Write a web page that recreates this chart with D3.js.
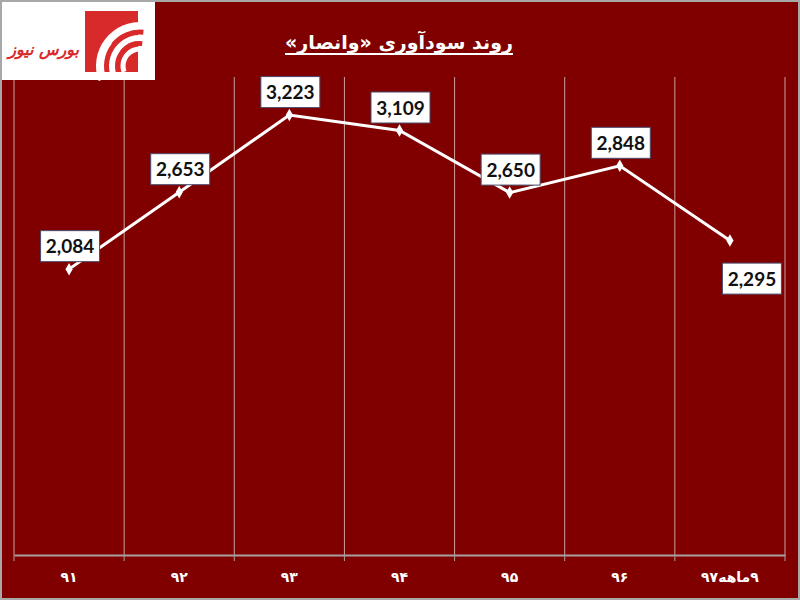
<!DOCTYPE html>
<html><head><meta charset="utf-8">
<script src="https://cdn.jsdelivr.net/npm/d3@7/dist/d3.min.js"></script>
<style>body{margin:0;background:#800000}svg{display:block}</style>
</head><body>
<script>
const categories = ["۹۱","۹۲","۹۳","۹۴","۹۵","۹۶","۹ماهه۹۷"];
const values = [2084, 2653, 3223, 3109, 2650, 2848, 2295];
const valueLabels = ["2,084","2,653","3,223","3,109","2,650","2,848","2,295"];
const title = "روند سودآوری «وانصار»";
const logoText = "بورس نیوز";

const W = 800, H = 600;
const svg = d3.select("body").append("svg").attr("width", W).attr("height", H);
svg.append("rect").attr("width", W).attr("height", H).attr("fill", "#800000");

const plotLeft = 14, plotRight = 785, plotTop = 77, plotBottom = 555;
const x = d3.scaleBand().domain(categories).range([plotLeft, plotRight]);
const y = d3.scaleLinear().domain([0, 4000]).range([551, 10]);

// vertical gridlines at band boundaries
const bounds = categories.map(c => x(c)).concat([plotRight]);
svg.append("g").selectAll("line").data(bounds).join("line")
  .attr("x1", d => d).attr("x2", d => d)
  .attr("y1", plotTop).attr("y2", plotBottom)
  .attr("stroke", "#c9a0a0").attr("stroke-width", 1);

// x axis
const xAxis = d3.axisBottom(x).tickSize(0).tickFormat(d => d);
const gx = svg.append("g").attr("transform", `translate(0,${plotBottom})`).call(xAxis);
gx.select(".domain").attr("stroke", "#a8a0a0").attr("stroke-width", 2);
gx.selectAll(".tick line").remove();
gx.selectAll(".tick text")
  .attr("fill", "#ffffff").attr("font-family", "DejaVu Sans")
  .attr("font-weight", "bold").attr("font-size", 14)
  .attr("y", 27).attr("dy", 0).style("direction", "rtl");
// tick marks at boundaries
svg.append("g").selectAll("line").data(bounds).join("line")
  .attr("x1", d => d).attr("x2", d => d)
  .attr("y1", plotBottom).attr("y2", plotBottom + 6)
  .attr("stroke", "#a8a0a0").attr("stroke-width", 1);

// line
const cx = d => x(d) + x.bandwidth() / 2;
const pts = categories.map((c, i) => [cx(c), y(values[i])]);
svg.append("path").datum(pts)
  .attr("d", d3.line())
  .attr("fill", "none").attr("stroke", "#ffffff").attr("stroke-width", 3);
svg.append("g").selectAll("path").data(pts).join("path")
  .attr("transform", d => `translate(${d[0]},${d[1]})`)
  .attr("d", d3.symbol(d3.symbolDiamond, 45))
  .attr("fill", "#ffffff");

// labels
const lg = svg.append("g");
pts.forEach((p, i) => {
  const last = i === pts.length - 1;
  const lx = p[0] + (last ? 22 : 1);
  const ly = p[1] + (last ? 38 : -23);
  const bw = 59, bh = 31;
  lg.append("rect").attr("x", lx - bw/2).attr("y", ly - bh/2)
    .attr("width", bw).attr("height", bh)
    .attr("fill", "#ffffff").attr("stroke", "#4a4a6a").attr("stroke-width", 1);
  lg.append("text").attr("x", lx).attr("y", ly + 7)
    .attr("text-anchor", "middle").attr("font-family", "Lato")
    .attr("font-weight", "bold").attr("font-size", 19).attr("fill", "#111111")
    .text(valueLabels[i]);
});

// title
const tt = svg.append("text").attr("x", 399).attr("y", 49)
  .attr("text-anchor", "middle").attr("font-family", "DejaVu Sans")
  .attr("font-weight", "bold").attr("font-size", 19).attr("fill", "#ffffff")
  .style("direction", "rtl").text(title);
const tb = tt.node().getBBox();
svg.append("line").attr("x1", tb.x).attr("x2", tb.x + tb.width).attr("y1", 54).attr("y2", 54)
  .attr("stroke", "#ffffff").attr("stroke-width", 2);

// logo
const logo = svg.append("g");
logo.append("rect").attr("x", 0).attr("y", 2).attr("width", 155).attr("height", 78).attr("fill", "#ffffff");
logo.append("rect").attr("x", 85).attr("y", 11).attr("width", 53).attr("height", 61).attr("fill", "#d8292b");
const arc = d3.arc();
[[40, 8], [28, 6], [17, 5]].forEach(([r, w]) => {
  logo.append("path").attr("transform", "translate(140,66)")
    .attr("d", arc({innerRadius: r - w/2, outerRadius: r + w/2, startAngle: -Math.PI/2 - 0.35, endAngle: 0.1}))
    .attr("fill", "#ffffff");
});
[[34, 5], [22.5, 5]].forEach(([r, w]) => {
  logo.append("path").attr("transform", "translate(140,66)")
    .attr("d", arc({innerRadius: r - w/2, outerRadius: r + w/2, startAngle: -0.9, endAngle: 0.1}))
    .attr("fill", "#d8292b");
});
logo.append("text").attr("x", 79).attr("y", 55)
  .attr("text-anchor", "end").attr("font-family", "DejaVu Sans")
  .attr("font-weight", "bold").attr("font-style", "italic").attr("font-size", 16)
  .attr("fill", "#d8292b").text(logoText);

// frame
svg.append("rect").attr("x", 1).attr("y", 1).attr("width", W - 2).attr("height", H - 2)
  .attr("fill", "none").attr("stroke", "#a8a8a8").attr("stroke-width", 2);
</script>
</body></html>
